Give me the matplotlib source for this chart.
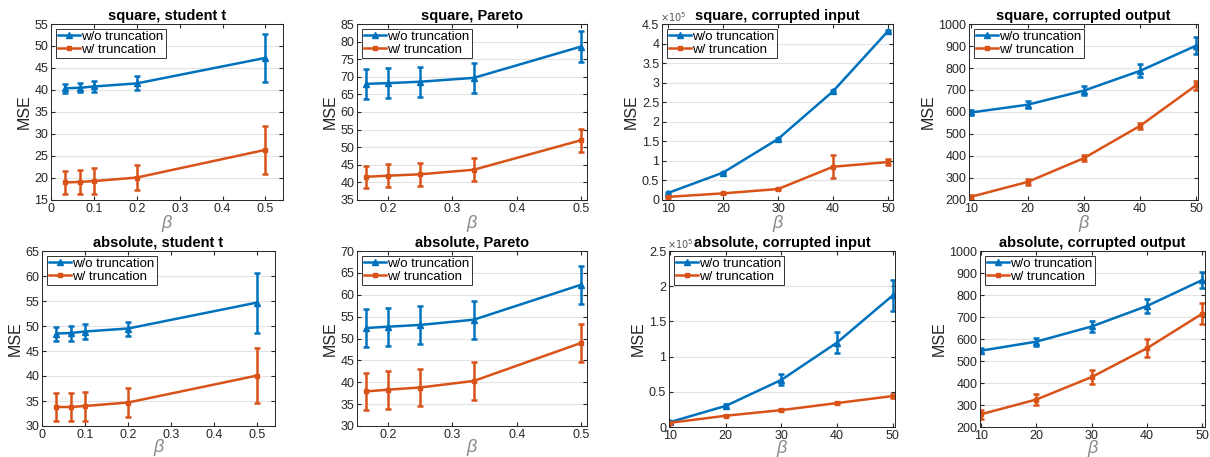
import numpy as np
import matplotlib
matplotlib.use('Agg')
import matplotlib.pyplot as plt
from matplotlib.lines import Line2D
from matplotlib.ticker import FuncFormatter

plt.rcParams['font.family'] = ['Liberation Sans', 'DejaVu Sans']

BLUE = '#0072BD'
ORANGE = '#D95319'
GRAY = '#262626'

# beta values
beta_t = [1 / 30, 1 / 15, 0.1, 0.2, 0.5]
beta_p = [1 / 6, 0.2, 0.25, 1 / 3, 0.5]
beta_c = [10, 20, 30, 40, 50]

titles = ['square, student t', 'square, Pareto', 'square, corrupted input', 'square, corrupted output',
          'absolute, student t', 'absolute, Pareto', 'absolute, corrupted input', 'absolute, corrupted output']

# w/o truncation (mean, error)
wo_sq_t = [40.4, 40.5, 40.8, 41.5, 47.3]
wo_sq_t_err = [1.0, 1.0, 1.2, 1.6, 5.5]
wo_sq_p = [68.0, 68.2, 68.6, 69.7, 78.6]
wo_sq_p_err = [4.3, 4.3, 4.3, 4.3, 4.3]
wo_sq_ci = [0.18e5, 0.70e5, 1.56e5, 2.78e5, 4.32e5]
wo_sq_ci_err = [0.02e5, 0.02e5, 0.03e5, 0.03e5, 0.03e5]
wo_sq_co = [598, 633, 697, 787, 902]
wo_sq_co_err = [12, 15, 20, 30, 38]
wo_ab_t = [48.5, 48.6, 48.9, 49.5, 54.7]
wo_ab_t_err = [1.4, 1.5, 1.5, 1.4, 6.0]
wo_ab_p = [52.4, 52.7, 53.1, 54.3, 62.3]
wo_ab_p_err = [4.3, 4.3, 4.3, 4.3, 4.3]
wo_ab_ci = [0.07e5, 0.30e5, 0.67e5, 1.20e5, 1.87e5]
wo_ab_ci_err = [0.01e5, 0.02e5, 0.08e5, 0.15e5, 0.22e5]
wo_ab_co = [547, 588, 657, 750, 868]
wo_ab_co_err = [12, 18, 25, 30, 38]

# w/ truncation (mean, error)
w_sq_t = [19.0, 19.1, 19.3, 20.1, 26.4]
w_sq_t_err = [2.7, 2.8, 2.9, 2.9, 5.4]
w_sq_p = [41.6, 41.9, 42.3, 43.6, 52.0]
w_sq_p_err = [3.2, 3.2, 3.2, 3.2, 3.3]
w_sq_ci = [0.08e5, 0.17e5, 0.28e5, 0.85e5, 0.97e5]
w_sq_ci_err = [0.02e5, 0.02e5, 0.02e5, 0.30e5, 0.08e5]
w_sq_co = [215, 282, 390, 537, 722]
w_sq_co_err = [10, 12, 13, 15, 20]
w_ab_t = [33.8, 33.8, 34.0, 34.7, 40.1]
w_ab_t_err = [2.8, 2.8, 2.9, 2.9, 5.5]
w_ab_p = [37.9, 38.3, 38.8, 40.3, 49.0]
w_ab_p_err = [4.3, 4.3, 4.3, 4.3, 4.4]
w_ab_ci = [0.06e5, 0.16e5, 0.24e5, 0.34e5, 0.44e5]
w_ab_ci_err = [0.01e5, 0.01e5, 0.015e5, 0.02e5, 0.03e5]
w_ab_co = [258, 325, 427, 558, 715]
w_ab_co_err = [20, 25, 32, 40, 48]

panels = [
    (beta_t, wo_sq_t, wo_sq_t_err, w_sq_t, w_sq_t_err),
    (beta_p, wo_sq_p, wo_sq_p_err, w_sq_p, w_sq_p_err),
    (beta_c, wo_sq_ci, wo_sq_ci_err, w_sq_ci, w_sq_ci_err),
    (beta_c, wo_sq_co, wo_sq_co_err, w_sq_co, w_sq_co_err),
    (beta_t, wo_ab_t, wo_ab_t_err, w_ab_t, w_ab_t_err),
    (beta_p, wo_ab_p, wo_ab_p_err, w_ab_p, w_ab_p_err),
    (beta_c, wo_ab_ci, wo_ab_ci_err, w_ab_ci, w_ab_ci_err),
    (beta_c, wo_ab_co, wo_ab_co_err, w_ab_co, w_ab_co_err),
]

# axes boxes in pixels: left, top, right, bottom
boxes = [(51, 24, 283, 200), (357, 24, 587, 200), (662, 24, 893, 200), (969, 24, 1198, 200),
         (42, 251, 275, 426), (357, 251, 587, 426), (669, 251, 895, 427), (980, 251, 1205, 427)]

xlims = [(0, 0.541), (0.152, 0.509), (8.9, 50.9), (9.6, 50.3),
         (0, 0.541), (0.152, 0.509), (9.8, 50.4), (9.8, 50.5)]
ylims = [(15, 55), (35, 85), (0, 4.5e5), (200, 1000),
         (30, 65), (30, 70), (0, 2.5e5), (200, 1000)]
xticks = [np.arange(0, 0.51, 0.1), np.arange(0.2, 0.51, 0.1), beta_c, beta_c,
          np.arange(0, 0.51, 0.1), np.arange(0.2, 0.51, 0.1), beta_c, beta_c]
ysteps = [5, 5, 0.5e5, 100, 5, 5, 0.5e5, 100]
sci = [False, False, True, False, False, False, True, False]

W, H = 1210, 457
fig = plt.figure(figsize=(W / 100, H / 100), dpi=100)

handles = [Line2D([], [], color=BLUE, marker='^', ms=4, lw=1.8),
           Line2D([], [], color=ORANGE, marker='s', ms=3.5, lw=1.8)]
labels = ['w/o truncation', 'w/ truncation']

for i, (x, wo, wo_e, w, w_e) in enumerate(panels):
    l, t, r, b = boxes[i]
    ax = fig.add_axes([l / W, 1 - b / H, (r - l) / W, (b - t) / H])
    ax.errorbar(x, wo, yerr=wo_e, color=BLUE, marker='^', ms=4, lw=1.8,
                elinewidth=1.8, capsize=2.5, capthick=1.8)
    ax.errorbar(x, w, yerr=w_e, color=ORANGE, marker='s', ms=3.5, lw=1.8,
                elinewidth=1.8, capsize=2.5, capthick=1.8)
    ax.set_xlim(*xlims[i])
    ax.set_ylim(*ylims[i])
    ax.set_xticks(xticks[i])
    lo, hi = ylims[i]
    ax.set_yticks(np.arange(lo, hi + ysteps[i] / 2, ysteps[i]))
    ax.xaxis.set_major_formatter(FuncFormatter(lambda v, p: '%g' % round(v, 3)))
    if sci[i]:
        ax.yaxis.set_major_formatter(FuncFormatter(lambda v, p: '%g' % round(v / 1e5, 3)))
        ax.text(-0.01, 1.0, r'$\times10^5$', transform=ax.transAxes, fontsize=7,
                color='#555555', ha='left', va='bottom')
    else:
        ax.yaxis.set_major_formatter(FuncFormatter(lambda v, p: '%g' % v))
    ax.grid(axis='y', color='#e3e3e3', lw=0.8)
    ax.set_axisbelow(True)
    ax.tick_params(direction='in', labelsize=9, colors=GRAY, length=3, pad=2,
                   top=True, right=True)
    for s in ax.spines.values():
        s.set_color(GRAY)
        s.set_linewidth(0.7)
    ax.set_title(titles[i], fontsize=10.5, fontweight='bold', pad=3)
    ax.set_ylabel('MSE', fontsize=11.5, color=GRAY, labelpad=2)
    ax.set_xlabel('β', fontsize=13, color='#888888', fontstyle='italic',
                  labelpad=0 if i < 4 else -1)
    leg = ax.legend(handles, labels, loc='upper left', fontsize=9.5, frameon=True, fancybox=False,
                    borderpad=0.15, labelspacing=0.05, handlelength=1.7, handletextpad=0.1,
                    borderaxespad=0.35)
    leg.get_frame().set_edgecolor('black')
    leg.get_frame().set_linewidth(0.7)

fig.savefig('out.png', dpi=100)
